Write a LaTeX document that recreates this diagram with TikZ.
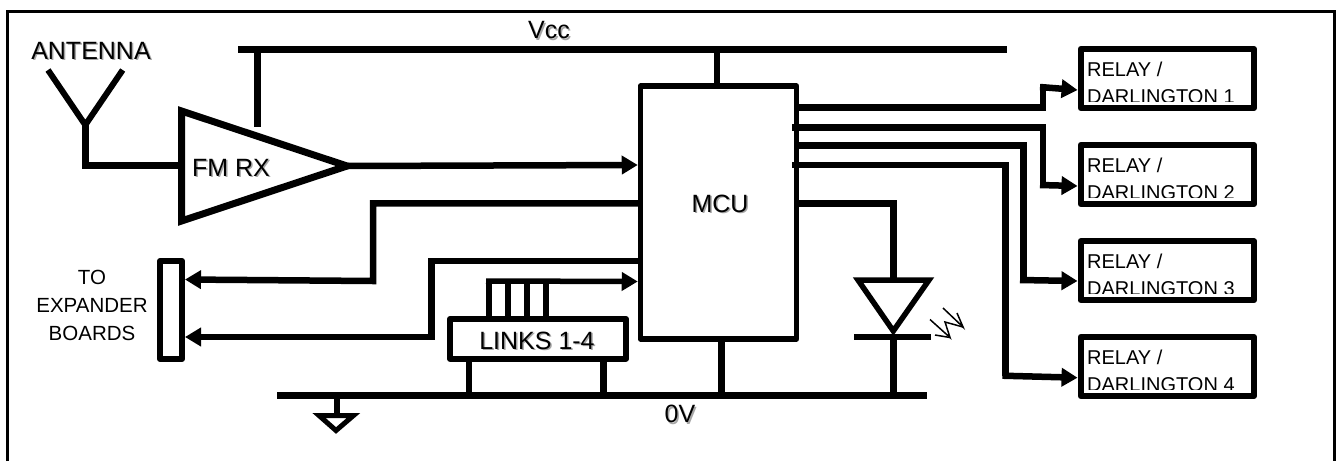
\documentclass[tikz,border=0pt]{standalone}
\usepackage{fontspec}
\setmainfont{Liberation Sans}
\usetikzlibrary{arrows.meta}
\newcommand{\shadowed}[1]{\rlap{\kern1.5pt\raisebox{-1.5pt}{\textcolor{black!35}{#1}}}#1}
\tikzset{
    wire/.style={line width=6.5pt},
    arrowed/.style={wire, -{Triangle[length=16pt, width=18pt]}},
    boxed/.style={draw, line width=6pt, line join=round, inner sep=0pt},
    big/.style={font=\fontsize{25}{28}\selectfont, inner sep=0pt},
    small/.style={font=\fontsize{20.5}{28}\selectfont, inner sep=0pt},
    relaytext/.style={font=\fontsize{20}{27.5}\selectfont, inner sep=0pt},
}
\begin{document}
\begin{tikzpicture}[x=1pt, y=-1pt]
    \useasboundingbox (0,0) rectangle (1336,461);
    \draw[line width=3pt] (7,461) -- (7,11.5) -- (1334.5,11.5) -- (1334.5,461);

    % main blocks
    \node[boxed, line width=5.5pt, minimum width=156pt, minimum height=253pt] (mcu) at (718.5,212.5) {};
    \node[big] (mculabel) at (720,204.5) {\shadowed{MCU}};
    \node[boxed, minimum width=22pt, minimum height=98pt] (expander) at (171,310) {};
    \node[boxed, minimum width=176pt, minimum height=39.5pt] (links) at (538,338.8) {};
    \node[big] (linkslabel) at (537,341.5) {\shadowed{LINKS 1-4}};
    \node[small, align=center] (expanderlabel) at (92,305.5) {TO\\EXPANDER\\BOARDS};

    \foreach \n/\y in {1/78.5, 2/174.5, 3/270.7, 4/366.5}{
        \begin{scope}
            \clip (1083,\y-25) rectangle (1251,\y+23);
            \node[relaytext, align=left, anchor=north west] (relaylabel\n) at (1087,\y-17) {RELAY /\\DARLINGTON \n};
        \end{scope}
        \node[boxed, minimum width=173.5pt, minimum height=59pt] (relay\n) at (1167.3,\y) {};
    }

    % supply rails
    \coordinate (vccleft) at (238,49.5);
    \coordinate (vccright) at (1007,49.5);
    \coordinate (gndleft) at (277,395.5);
    \coordinate (gndright) at (927,395.5);
    \draw[wire] (vccleft) -- (vccright);
    \draw[wire] (gndleft) -- (gndright);
    \node[big] (vcclabel) at (549,31) {\shadowed{Vcc}};
    \node[big] (gndlabel) at (680,415) {\shadowed{0V}};
    \draw[wire] (vccleft -| mcu.north) ++(-1.5,0) -- ++(0,37);
    \draw[wire] (721.7,395.5) -- (721.7,339);
    \draw[wire] (links.south -| 469,0) -- (469,395.5);
    \draw[wire] (links.south -| 603.3,0) -- (603.3,395.5);

    % ground symbol
    \draw[line width=6pt] (337.3,395.5) -- (337.3,415);
    \draw[line width=5pt] (319,415.5) -- (353.5,415.5) -- (336,430.5) -- cycle;

    % antenna and receiver
    \coordinate (antfoot) at (85.3,125);
    \coordinate (rxtop) at (181.5,111);
    \coordinate (rxbottom) at (181.5,221);
    \coordinate (rxout) at (347,166);
    \node[big] (antennalabel) at (91,51.5) {\shadowed{ANTENNA}};
    \draw[line width=6pt] (48,70) -- (antfoot) -- (122.7,70);
    \draw[wire] (antfoot) -- (85.3,165.3) -- (rxtop |- 0,165.3);
    \draw[line width=7pt] (rxtop) -- (rxout) -- (rxbottom) -- cycle;
    \node[big] (rxlabel) at (231,168.5) {\shadowed{FM RX}};
    \draw[wire] (257.3,49.5) -- (257.3,127);
    \draw[arrowed] (rxout) -- (mcu.west |- 0,165);

    % expander connections
    \draw[arrowed] (mcu.west |- 0,203.3) -- (373,203.3) -- (373,281) -- (expander.east |- 0,279.5);
    \draw[arrowed] (mcu.west |- 0,261) -- (431.7,261) -- (431.7,337) -- (expander.east |- 0,337);

    % links
    \draw[wire, line width=5.5pt, -{Triangle[length=16pt, width=18pt]}] (486,281) -- (mcu.west |- 0,281.5);
    \foreach \x in {489,507.5,527,546}{
        \draw[line width=6pt] (\x,281) -- (links.north -| \x,0);
    }

    % relay outputs
    \coordinate (outtwo) at (792,127.3);
    \coordinate (outfour) at (792,165);
    \draw[wire] (mcu.east |- 0,107.3) -- (1043,107.3) -- (1043,87);
    \draw[arrowed] (1040,87) -- (relay1.west |- 0,90);
    \draw[wire] (outtwo) -- (1043,127.3) -- (1043,185);
    \draw[arrowed] (1040,185) -- (relay2.west |- 0,186);
    \draw[wire] (mcu.east |- 0,145.7) -- (1023.3,145.7) -- (1023.3,280);
    \draw[arrowed] (1020,280) -- (relay3.west |- 0,281);
    \draw[wire] (outfour) -- (1005.7,165) -- (1005.7,375.7);
    \draw[arrowed] (1002.5,375.7) -- (relay4.west |- 0,377.7);

    % status led
    \coordinate (ledanode) at (893.3,280);
    \coordinate (ledcathode) at (893.3,337);
    \draw[wire] (mcu.east |- 0,203.3) -- (893.3,203.3) -- (ledanode);
    \draw[line width=5.5pt] (858,280) -- (929,280) -- (ledcathode |- 0,331) -- cycle;
    \draw[wire] (854,337) -- (931,337);
    \draw[wire] (ledcathode) -- (893.3,395.5);
    \draw[line width=1.5pt] (930,319.5) -- (950,337.5) -- (945,322) -- (963,327);
    \draw[line width=1.5pt] (935,335) -- (950,337.5);
    \draw[line width=1.5pt] (943,308) -- (963,327) -- (957,313);
\end{tikzpicture}
\end{document}
